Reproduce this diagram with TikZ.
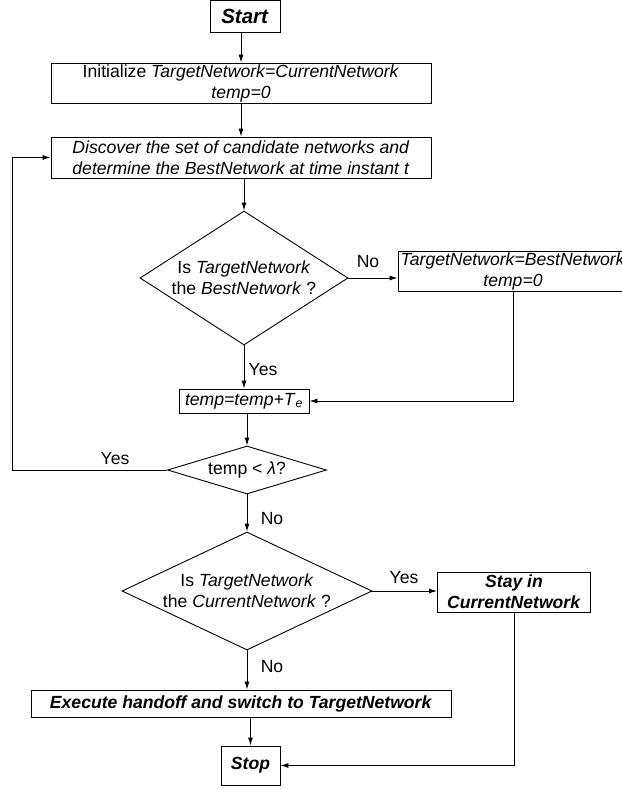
\documentclass[tikz,border=0pt]{standalone}
\usepackage{fontspec}
\setmainfont{Liberation Sans}
\usepackage{tikz}
\usetikzlibrary{shapes.geometric,arrows.meta,positioning}

\begin{document}
\begin{tikzpicture}[x=1pt,y=-1pt,line width=0.9pt,
  font=\fontsize{17.6}{21}\selectfont,
  box/.style={draw,rectangle,inner sep=0pt,align=center},
  dec/.style={draw,diamond,inner sep=0pt,align=center},
  lbl/.style={inner sep=0pt},
  arr/.style={-{Latex[length=8pt,width=5pt]}}]
\useasboundingbox (0,0) rectangle (621,789);
\node [box,minimum width=70,minimum height=32,font=\fontsize{20.5}{24}\selectfont] (start) at (245,16) {\textbf{\textit{Start}}};
\node [box,minimum width=380,minimum height=40] (init) at (241,83) {Initialize \textit{TargetNetwork=CurrentNetwork}\\\textit{temp=0}};
\node [box,minimum width=380,minimum height=41] (disc) at (241,157.5) {\textit{Discover the set of candidate networks and}\\\textit{determine the BestNetwork at time instant t}};
\node [dec,minimum width=208,minimum height=134,aspect=1.5] (dbest) at (244,278) {Is \textit{TargetNetwork}\\the \textit{BestNetwork} ?};
\node [box,minimum width=230,minimum height=40] (best) at (513,271) {\textit{TargetNetwork=BestNetwork}\\\textit{temp=0}};
\node [box,minimum width=130,minimum height=24] (temp) at (244,401) {\textit{temp=temp+T}\textsubscript{\textit{e}}};
\node [dec,minimum width=159,minimum height=48,aspect=3.3] (dlam) at (247,470) {temp < \textit{λ}?};
\node [dec,minimum width=250,minimum height=118,aspect=2.15] (dcur) at (247,591) {Is \textit{TargetNetwork}\\the \textit{CurrentNetwork} ?};
\node [box,minimum width=153,minimum height=40] (stay) at (514,592) {\textbf{\textit{Stay in}}\\\textbf{\textit{CurrentNetwork}}};
\node [box,minimum width=420,minimum height=27] (exec) at (241,703.5) {\textbf{\textit{Execute handoff and switch to TargetNetwork}}};
\node [box,minimum width=59,minimum height=39] (stop) at (250.5,765.5) {\textbf{\textit{Stop}}};
\coordinate (loop) at (12,470); % return to discovery
% labels
\node [lbl] (no1) at (368,262) {No};
\node [lbl] (yes1) at (263,370) {Yes};
\node [lbl] (yes2) at (115,459) {Yes};
\node [lbl] (no2) at (272,519) {No};
\node [lbl] (yes3) at (404,578) {Yes};
\node [lbl] (no3) at (272,667) {No};
% connectors
\draw [arr] (start.south -| init.north) -- (init.north);
\draw [arr] (init.south) -- (disc.north);
\draw [arr] (disc.south -| dbest.north) -- (dbest.north);
\draw [arr] (dbest.east) -- (dbest.east -| best.west);
\draw [arr] (best.south) |- (temp.east);
\draw [arr] (dbest.south) -- (temp.north);
\draw [arr] (temp.south -| dlam.north) -- (dlam.north);
\draw [arr] (dlam.west) -- (loop) |- (disc.west);
\draw [arr] (dlam.south) -- (dcur.north);
\draw [arr] (dcur.east) -- (dcur.east -| stay.west);
\draw [arr] (dcur.south) -- (dcur.south |- exec.north);
\draw [arr] (stop.north |- exec.south) -- (stop.north);
\draw [arr] (stay.south) |- (stop.east);
\end{tikzpicture}
\end{document}
